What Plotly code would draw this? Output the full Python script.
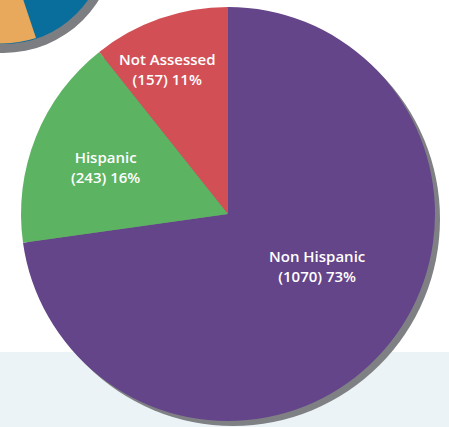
import plotly.graph_objects as go

# dados do grafico
categorias = ["Non Hispanic", "Hispanic", "Not Assessed"]
contagens = [1070, 243, 157]
percentuais = ["73%", "16%", "11%"]
cores = ["#644589", "#5cb462", "#d25055"]

W, H = 449, 427

# helpers para converter pixels em coordenadas de papel
def px(x):
    return x / W

def py(y):
    return 1 - y / H

# posicao da pizza principal (centro e raio em pixels)
cx, cy, r = 228, 214, 207
sombra = 5

rotulos = [f"{c}<br>({n}) {p}" for c, n, p in zip(categorias, contagens, percentuais)]

fig = go.Figure()

# sombra cinza atras da pizza
fig.add_trace(go.Pie(
    values=[1],
    marker=dict(colors=["#7f8084"], line=dict(width=0)),
    textinfo="none",
    hoverinfo="skip",
    sort=False,
    showlegend=False,
    domain=dict(x=[px(cx - r + sombra), px(cx + r + sombra)],
                y=[py(cy + r + sombra), py(cy - r + sombra)]),
))

# pizza principal (rotulos vao como anotacoes)
fig.add_trace(go.Pie(
    labels=categorias,
    values=contagens,
    textinfo="none",
    marker=dict(colors=cores, line=dict(width=0)),
    sort=False,
    direction="clockwise",
    rotation=0,
    hoverinfo="skip",
    showlegend=False,
    domain=dict(x=[px(cx - r), px(cx + r)], y=[py(cy + r), py(cy - r)]),
))

# posicao dos rotulos em pixels
pos_rotulos = [(317, 266), (105, 167), (167, 69)]
anotacoes = [
    dict(x=px(x), y=py(y), xref="paper", yref="paper", text=t, showarrow=False,
         font=dict(family="Open Sans", size=15, color="white", weight=600),
         xanchor="center", yanchor="middle")
    for t, (x, y) in zip(rotulos, pos_rotulos)
]

# pedaco da pizza vizinha no canto superior esquerdo
ox, oy, orr = 3.6, -59, 103
formas = [
    # faixa de fundo clara
    dict(type="rect", xref="paper", yref="paper", x0=0, x1=1, y0=0, y1=py(352),
         fillcolor="#ebf3f7", line=dict(width=0), layer="below"),
    dict(type="circle", xref="paper", yref="paper",
         x0=px(ox - orr - 9), x1=px(ox + orr + 9), y0=py(oy + orr + 9), y1=py(oy - orr - 9),
         fillcolor="#7d7e82", line=dict(width=0), layer="below"),
    dict(type="circle", xref="paper", yref="paper",
         x0=px(ox - orr), x1=px(ox + orr), y0=py(oy + orr), y1=py(oy - orr),
         fillcolor="#0a6e9c", line=dict(width=0), layer="below"),
    # fatia laranja aproximada com curva
    dict(type="path", xref="paper", yref="paper",
         path=(f"M {px(ox)} {py(oy)} L {px(36)} {py(38)} "
               f"Q {px(-8)} {py(52)} {px(-45)} {py(30)} Z"),
         fillcolor="#e8a95c", line=dict(width=0), layer="below"),
]

fig.update_layout(
    width=W, height=H,
    margin=dict(l=0, r=0, t=0, b=0),
    paper_bgcolor="white",
    plot_bgcolor="rgba(0,0,0,0)",
    shapes=formas,
    annotations=anotacoes,
)

# tira a margem padrao do body para o grafico ocupar a janela toda
fig.write_html("out.html",
               config={"displayModeBar": False},
               post_script="document.body.style.margin='0';document.body.style.overflow='hidden';")
